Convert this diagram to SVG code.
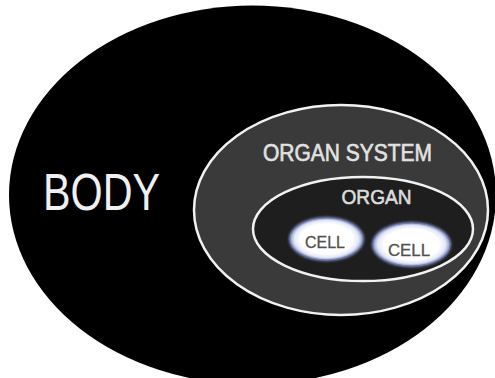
<svg xmlns="http://www.w3.org/2000/svg" width="495" height="378" viewBox="0 0 495 378">
  <style>
    .lbl { font-family: "Liberation Sans", Arial, sans-serif; }
    .heavy { stroke-width: 0.6; paint-order: stroke; }
    .ring { stroke: #f2f2f2; stroke-width: 2.5; }
    .cell { fill: url(#cellGrad); stroke: #6f7cb0; stroke-width: 1.2; }
    .celltxt { font-family: "Liberation Sans", Arial, sans-serif; font-size: 17px; fill: #505050; stroke: #505050; stroke-width: 0.3; }
  </style>
  <defs>
    <radialGradient id="cellGrad" cx="0.5" cy="0.5" r="0.5">
      <stop offset="0" stop-color="#ffffff"/>
      <stop offset="0.72" stop-color="#ffffff"/>
      <stop offset="0.88" stop-color="#e4e8f6"/>
      <stop offset="1" stop-color="#8a96c8"/>
    </radialGradient>
    <filter id="glow" x="-20%" y="-30%" width="140%" height="160%">
      <feGaussianBlur stdDeviation="1.2"/>
    </filter>
  </defs>
  <rect width="495" height="378" fill="#ffffff"/>
  <g id="body">
    <ellipse cx="252.5" cy="195" rx="243.5" ry="189.5" fill="#000000"/>
    <text class="lbl" x="43" y="210" font-size="51" fill="#f0f0f0" textLength="117" lengthAdjust="spacingAndGlyphs">BODY</text>
  </g>
  <g id="organ-system">
    <ellipse class="ring" cx="341" cy="210" rx="147" ry="105" fill="#3a3a3a"/>
    <text class="lbl heavy" x="263" y="160.5" font-size="23" fill="#e2e2e2" stroke="#e2e2e2" textLength="169" lengthAdjust="spacingAndGlyphs">ORGAN SYSTEM</text>
  </g>
  <g id="organ">
    <ellipse class="ring" cx="363" cy="229" rx="110" ry="52" fill="#1e1e1e"/>
    <text class="lbl heavy" x="341.5" y="203.5" font-size="20" fill="#dcdcdc" stroke="#dcdcdc" textLength="70" lengthAdjust="spacingAndGlyphs">ORGAN</text>
  </g>
  <g id="cell-1">
    <ellipse cx="326.5" cy="239" rx="38" ry="22.5" fill="#8a96c8" opacity="0.7" filter="url(#glow)"/>
    <ellipse class="cell" cx="326.5" cy="239" rx="36.5" ry="21"/>
    <text class="celltxt" x="305" y="247.5" textLength="40" lengthAdjust="spacingAndGlyphs">CELL</text>
  </g>
  <g id="cell-2">
    <ellipse cx="411.5" cy="244.5" rx="40" ry="23" fill="#8a96c8" opacity="0.7" filter="url(#glow)"/>
    <ellipse class="cell" cx="411.5" cy="244.5" rx="38.5" ry="21.5"/>
    <text class="celltxt" x="388" y="256" textLength="42" lengthAdjust="spacingAndGlyphs">CELL</text>
  </g>
  <g id="connectors"/>
</svg>
